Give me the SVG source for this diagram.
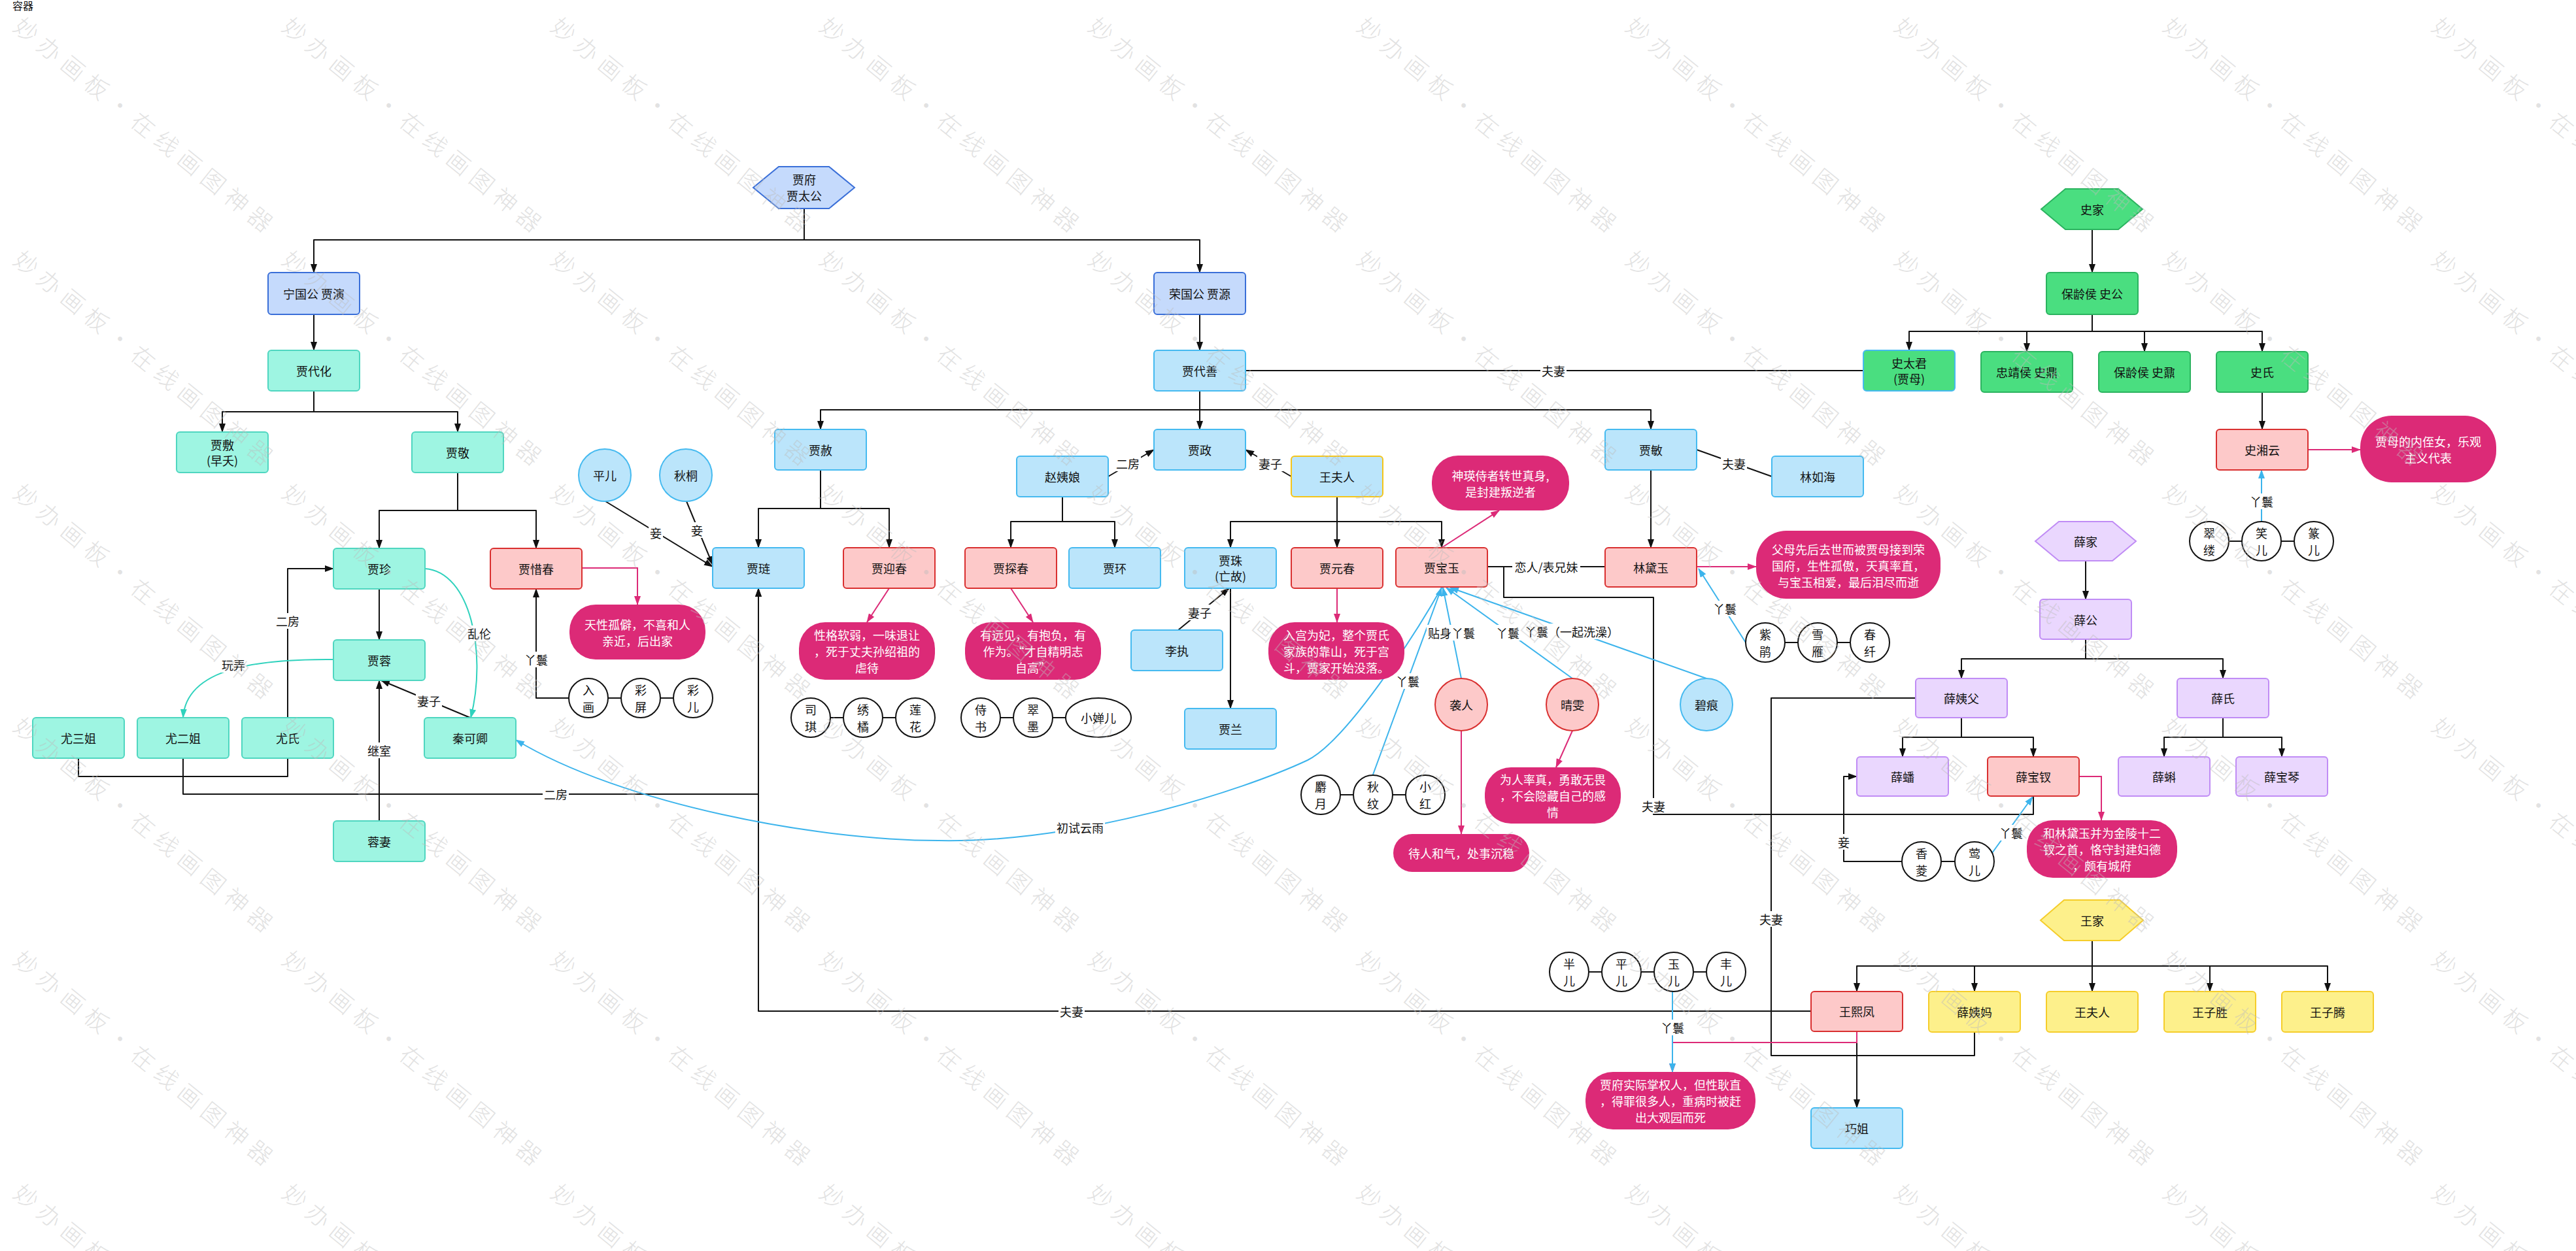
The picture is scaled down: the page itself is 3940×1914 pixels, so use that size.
<svg xmlns="http://www.w3.org/2000/svg" xmlns:xlink="http://www.w3.org/1999/xlink" width="3940" height="1914" viewBox="0 0 3940 1914">
<style>
.t{font-family:"Noto Sans CJK SC","Noto Sans",sans-serif;font-size:18px;fill:#111;text-anchor:middle;dominant-baseline:central}
.tw{fill:#fff}
.nb{fill:#c5dafc;stroke:#3a6fd8;stroke-width:2}
.nt{fill:#9ef5e2;stroke:#4fd6c0;stroke-width:2}
.ns{fill:#bbe5fb;stroke:#45baf0;stroke-width:2}
.nr{fill:#fdc9c9;stroke:#d93030;stroke-width:2}
.ng{fill:#4ade80;stroke:#2bb35f;stroke-width:2}
.np{fill:#ead7fe;stroke:#c08cf5;stroke-width:2}
.ny{fill:#fdf08b;stroke:#f5cd2a;stroke-width:2}
.note{fill:#dc2a77}
.maid{fill:#fff;stroke:#111;stroke-width:2}
.e{fill:none;stroke:#111;stroke-width:2;stroke-linejoin:round}
.eb{fill:none;stroke:#3cb4ec;stroke-width:2}
.ep{fill:none;stroke:#dc2a77;stroke-width:2}
.et{fill:none;stroke:#2fd2bd;stroke-width:2}
.lbg{fill:#fff}
.wm{font-family:"Noto Sans CJK SC",sans-serif;font-size:36px;font-weight:300;letter-spacing:10px;fill:#bdbdbd;fill-opacity:0.45}
</style>
<defs>
<marker id="ak" viewBox="0 0 14 10" refX="13" refY="5" markerWidth="14" markerHeight="10" markerUnits="userSpaceOnUse" orient="auto"><path d="M0,0 L14,5 L0,10 z" fill="#111"/></marker>
<marker id="ab" viewBox="0 0 14 10" refX="13" refY="5" markerWidth="14" markerHeight="10" markerUnits="userSpaceOnUse" orient="auto"><path d="M0,0 L14,5 L0,10 z" fill="#3cb4ec"/></marker>
<marker id="ap" viewBox="0 0 14 10" refX="13" refY="5" markerWidth="14" markerHeight="10" markerUnits="userSpaceOnUse" orient="auto"><path d="M0,0 L14,5 L0,10 z" fill="#dc2a77"/></marker>
<marker id="at" viewBox="0 0 14 10" refX="13" refY="5" markerWidth="14" markerHeight="10" markerUnits="userSpaceOnUse" orient="auto"><path d="M0,0 L14,5 L0,10 z" fill="#2fd2bd"/></marker>
<text id="wm" class="wm">妙办画板·在线画图神器</text>
</defs>
<rect width="3940" height="1914" fill="#fff"/>
<text x="19" y="8" class="t" style="font-size:16px;text-anchor:start">容器</text>

<g id="connectors">
<path class="e" marker-end="url(#ak)" d="M1230,319 V367 H480 V417"/>
<path class="e" marker-end="url(#ak)" d="M1230,367 H1835 V417"/>
<path class="e" marker-end="url(#ak)" d="M480,481 V536"/>
<path class="e" marker-end="url(#ak)" d="M480,598 V630 H340 V661"/>
<path class="e" marker-end="url(#ak)" d="M480,630 H700 V661"/>
<path class="e" marker-end="url(#ak)" d="M1835,481 V536"/>
<path class="e" marker-end="url(#ak)" d="M1835,598 V627 H1255 V657"/>
<path class="e" marker-end="url(#ak)" d="M1835,627 V657"/>
<path class="e" marker-end="url(#ak)" d="M1835,627 H2525 V657"/>
<path class="e" d="M1905,567 H2850"/>
<path class="e" marker-end="url(#ak)" d="M3200,351 V417"/>
<path class="e" marker-end="url(#ak)" d="M3200,481 V507 H2920 V536"/>
<path class="e" marker-end="url(#ak)" d="M3200,507 H3100 V538"/>
<path class="e" marker-end="url(#ak)" d="M3200,507 H3280 V538"/>
<path class="e" marker-end="url(#ak)" d="M3200,507 H3460 V538"/>
<path class="e" marker-end="url(#ak)" d="M3460,600 V657"/>
<path class="e" marker-end="url(#ak)" d="M700,723 V781 H580 V839"/>
<path class="e" marker-end="url(#ak)" d="M700,781 H820 V839"/>
<path class="e" marker-end="url(#ak)" d="M580,901 V979"/>
<path class="e" marker-end="url(#ak)" d="M1255,719 V778 H1160 V838"/>
<path class="e" marker-end="url(#ak)" d="M1255,778 H1360 V838"/>
<path class="e" marker-end="url(#ak)" d="M1625,760 V798 H1546 V838"/>
<path class="e" marker-end="url(#ak)" d="M1625,798 H1705 V838"/>
<path class="e" marker-end="url(#ak)" d="M2045,760 V798 H1882 V838"/>
<path class="e" marker-end="url(#ak)" d="M2045,798 V838"/>
<path class="e" marker-end="url(#ak)" d="M2045,798 H2205 V838"/>
<path class="e" marker-end="url(#ak)" d="M2525,719 V838"/>
<path class="e" marker-end="url(#ak)" d="M1695,729 L1765,688"/>
<path class="e" marker-end="url(#ak)" d="M1975,729 L1905,688"/>
<path class="e" d="M2595,688 L2710,729"/>
<path class="e" marker-end="url(#ak)" d="M926,767 L1090,867"/>
<path class="e" marker-end="url(#ak)" d="M1050,767 L1090,864"/>
<path class="e" marker-end="url(#ak)" d="M440,1098 V870 H510"/>
<path class="e" d="M120,1160 V1188 H440 V1160"/>
<path class="e" marker-end="url(#ak)" d="M280,1160 V1215 H1160 V900"/>
<path class="e" marker-end="url(#ak)" d="M2770,1547 H1160 V900"/>
<path class="e" marker-end="url(#ak)" d="M719,1098 L583,1041"/>
<path class="e" marker-end="url(#ak)" d="M580,1256 V1041"/>
<path class="e" marker-end="url(#ak)" d="M871,1068 H820 V901"/>
<path class="e" marker-end="url(#ak)" d="M1802,964 L1880,900"/>
<path class="e" marker-end="url(#ak)" d="M1882,900 V1084"/>
<path class="e" d="M2275,867 H2455"/>
<path class="e" d="M2275,867 H2300 V914 H2529 V1246 H3110 V1218"/>
<path class="e" marker-end="url(#ak)" d="M2909,1318 H2820 V1188 H2840"/>
<path class="e" marker-end="url(#ak)" d="M3190,858 V917"/>
<path class="e" marker-end="url(#ak)" d="M3190,978 V1008 H3000 V1038"/>
<path class="e" marker-end="url(#ak)" d="M3190,1008 H3400 V1038"/>
<path class="e" marker-end="url(#ak)" d="M3000,1098 V1128 H2910 V1158"/>
<path class="e" marker-end="url(#ak)" d="M3000,1128 H3110 V1158"/>
<path class="e" marker-end="url(#ak)" d="M3400,1098 V1128 H3310 V1158"/>
<path class="e" marker-end="url(#ak)" d="M3400,1128 H3490 V1158"/>
<path class="e" d="M2930,1068 H2709 V1615 H3020 V1579"/>
<path class="e" marker-end="url(#ak)" d="M3200,1439 V1478 H2840 V1517"/>
<path class="e" marker-end="url(#ak)" d="M3200,1478 H3020 V1517"/>
<path class="e" marker-end="url(#ak)" d="M3200,1478 V1517"/>
<path class="e" marker-end="url(#ak)" d="M3200,1478 H3380 V1517"/>
<path class="e" marker-end="url(#ak)" d="M3200,1478 H3560 V1517"/>
<path class="e" marker-end="url(#ak)" d="M2840,1578 V1695"/>
<path class="e" d="M930,1068 H950 M1010,1068 H1030 M1270,1098 H1290 M1350,1098 H1370 M1530,1098 H1550 M1610,1098 H1630 M2050,1216 H2070 M2130,1216 H2150 M2730,983 H2750 M2810,983 H2830 M3409,828 H3429 M3489,828 H3509 M2969,1318 H2990 M2430,1487 H2450 M2510,1487 H2530 M2590,1487 H2610"/>
<path class="ep" marker-end="url(#ap)" d="M890,869 H975 V925"/>
<path class="ep" marker-end="url(#ap)" d="M1360,900 L1326,952"/>
<path class="ep" marker-end="url(#ap)" d="M1546,900 L1580,952"/>
<path class="ep" marker-end="url(#ap)" d="M2045,900 V952"/>
<path class="ep" marker-end="url(#ap)" d="M2205,838 L2293,781"/>
<path class="ep" marker-end="url(#ap)" d="M2595,867 H2686"/>
<path class="ep" marker-end="url(#ap)" d="M2235,1118 V1276"/>
<path class="ep" marker-end="url(#ap)" d="M2405,1118 L2380,1174"/>
<path class="ep" marker-end="url(#ap)" d="M3530,688 H3610"/>
<path class="ep" marker-end="url(#ap)" d="M3180,1188 H3214 V1255"/>
<path class="ep" marker-end="url(#ap)" d="M2840,1578 V1595 H2558 V1640"/>
<path class="eb" marker-end="url(#ab)" d="M2670,983 L2598,870"/>
<path class="eb" marker-end="url(#ab)" d="M2235,1038 L2207,899"/>
<path class="eb" marker-end="url(#ab)" d="M2405,1038 L2212,899"/>
<path class="eb" marker-end="url(#ab)" d="M2610,1038 L2218,899"/>
<path class="eb" marker-end="url(#ab)" d="M2100,1185 L2205,899"/>
<path class="eb" marker-end="url(#ab)" d="M2205,899 C2165,970 2060,1133 2000,1163 C1900,1210 1650,1290 1435,1286 C1250,1286 950,1230 789,1132"/>
<path class="eb" marker-end="url(#ab)" d="M3459,798 V719"/>
<path class="eb" marker-end="url(#ab)" d="M3047,1305 L3109,1219"/>
<path class="eb" marker-end="url(#ab)" d="M2558,1517 V1640"/>
<path class="et" marker-end="url(#at)" d="M510,1009 C400,1008 285,1020 280,1098"/>
<path class="et" marker-end="url(#at)" d="M650,870 C720,875 745,1000 720,1098"/>
<g id="labels">
<rect class="lbg" x="420" y="938" width="40" height="24"/><text class="t" x="440" y="950">二房</text>
<rect class="lbg" x="337" y="1005" width="40" height="24"/><text class="t" x="357" y="1017">玩弄</text>
<rect class="lbg" x="713" y="957" width="40" height="24"/><text class="t" x="733" y="969">乱伦</text>
<rect class="lbg" x="636" y="1060" width="40" height="24"/><text class="t" x="656" y="1072">妻子</text>
<rect class="lbg" x="560" y="1136" width="40" height="24"/><text class="t" x="580" y="1148">继室</text>
<rect class="lbg" x="830" y="1203" width="40" height="24"/><text class="t" x="850" y="1215">二房</text>
<rect class="lbg" x="800" y="997" width="40" height="24"/><text class="t" x="820" y="1009">丫鬟</text>
<rect class="lbg" x="992" y="803" width="22" height="24"/><text class="t" x="1003" y="815">妾</text>
<rect class="lbg" x="1055" y="799" width="22" height="24"/><text class="t" x="1066" y="811">妾</text>
<rect class="lbg" x="1705" y="697" width="40" height="24"/><text class="t" x="1725" y="709">二房</text>
<rect class="lbg" x="1923" y="697" width="40" height="24"/><text class="t" x="1943" y="709">妻子</text>
<rect class="lbg" x="2356" y="555" width="40" height="24"/><text class="t" x="2376" y="567">夫妻</text>
<rect class="lbg" x="2632" y="697" width="40" height="24"/><text class="t" x="2652" y="709">夫妻</text>
<rect class="lbg" x="1815" y="925" width="40" height="24"/><text class="t" x="1835" y="937">妻子</text>
<rect class="lbg" x="1614" y="1254" width="76" height="24"/><text class="t" x="1652" y="1266">初试云雨</text>
<rect class="lbg" x="1619" y="1535" width="40" height="24"/><text class="t" x="1639" y="1547">夫妻</text>
<rect class="lbg" x="2313" y="855" width="104" height="24"/><text class="t" x="2365" y="867">恋人/表兄妹</text>
<rect class="lbg" x="2182" y="956" width="76" height="24"/><text class="t" x="2220" y="968">贴身丫鬟</text>
<rect class="lbg" x="2286" y="956" width="40" height="24"/><text class="t" x="2306" y="968">丫鬟</text>
<rect class="lbg" x="2329" y="954" width="150" height="24"/><text class="t" x="2404" y="966">丫鬟（一起洗澡）</text>
<rect class="lbg" x="2133" y="1030" width="40" height="24"/><text class="t" x="2153" y="1042">丫鬟</text>
<rect class="lbg" x="2618" y="919" width="40" height="24"/><text class="t" x="2638" y="931">丫鬟</text>
<rect class="lbg" x="2509" y="1221" width="40" height="24"/><text class="t" x="2529" y="1233">夫妻</text>
<rect class="lbg" x="2809" y="1276" width="22" height="24"/><text class="t" x="2820" y="1288">妾</text>
<rect class="lbg" x="3056" y="1262" width="40" height="24"/><text class="t" x="3076" y="1274">丫鬟</text>
<rect class="lbg" x="2689" y="1394" width="40" height="24"/><text class="t" x="2709" y="1406">夫妻</text>
<rect class="lbg" x="3439" y="755" width="40" height="24"/><text class="t" x="3459" y="767">丫鬟</text>
<rect class="lbg" x="2538" y="1560" width="40" height="24"/><text class="t" x="2558" y="1572">丫鬟</text>
</g>
</g>

<g id="jiafu"><polygon class="nb" points="1152,287 1191,255 1268,255 1307,287 1268,319 1191,319"/><text class="t" x="1230" y="274">贾府</text><text class="t" x="1230" y="299">贾太公</text></g>
<g id="shijia"><polygon class="ng" points="3122,320 3159,289 3240,289 3277,320 3240,351 3159,351"/><text class="t" x="3200" y="320">史家</text></g>
<g id="xuejia"><polygon class="np" points="3113,828 3149,798 3231,798 3267,828 3231,858 3149,858"/><text class="t" x="3190" y="828">薛家</text></g>
<g id="wangjia"><polygon class="ny" points="3121,1408 3157,1377 3242,1377 3278,1408 3242,1439 3157,1439"/><text class="t" x="3200" y="1408">王家</text></g>

<g id="ningguogong"><rect class="nb" x="410" y="417" width="140" height="64" rx="5"/><text class="t" x="480" y="449">宁国公 贾演</text></g>
<g id="rongguogong"><rect class="nb" x="1765" y="417" width="140" height="64" rx="5"/><text class="t" x="1835" y="449">荣国公 贾源</text></g>
<g id="jiadaihua"><rect class="nt" x="410" y="536" width="140" height="62" rx="5"/><text class="t" x="480" y="567">贾代化</text></g>
<g id="jiadaishan"><rect class="ns" x="1765" y="536" width="140" height="62" rx="5"/><text class="t" x="1835" y="567">贾代善</text></g>
<g id="jiafu2"><rect class="nt" x="270" y="661" width="140" height="62" rx="5"/><text class="t" x="340" y="680">贾敷</text><text class="t" x="340" y="704">(早夭)</text></g>
<g id="jiajing"><rect class="nt" x="630" y="661" width="140" height="62" rx="5"/><text class="t" x="700" y="692">贾敬</text></g>
<g id="jiazhen"><rect class="nt" x="510" y="839" width="140" height="62" rx="5"/><text class="t" x="580" y="870">贾珍</text></g>
<g id="jiaxichun"><rect class="nr" x="750" y="839" width="140" height="62" rx="5"/><text class="t" x="820" y="870">贾惜春</text></g>
<g id="jiarong"><rect class="nt" x="510" y="979" width="140" height="62" rx="5"/><text class="t" x="580" y="1010">贾蓉</text></g>
<g id="yousanjie"><rect class="nt" x="50" y="1098" width="140" height="62" rx="5"/><text class="t" x="120" y="1129">尤三姐</text></g>
<g id="youerjie"><rect class="nt" x="210" y="1098" width="140" height="62" rx="5"/><text class="t" x="280" y="1129">尤二姐</text></g>
<g id="youshi"><rect class="nt" x="370" y="1098" width="140" height="62" rx="5"/><text class="t" x="440" y="1129">尤氏</text></g>
<g id="qinkeqing"><rect class="nt" x="649" y="1098" width="140" height="62" rx="5"/><text class="t" x="719" y="1129">秦可卿</text></g>
<g id="rongqi"><rect class="nt" x="510" y="1256" width="140" height="62" rx="5"/><text class="t" x="580" y="1287">蓉妻</text></g>
<g id="jiashe"><rect class="ns" x="1185" y="657" width="140" height="62" rx="5"/><text class="t" x="1255" y="688">贾赦</text></g>
<g id="jiazheng"><rect class="ns" x="1765" y="657" width="140" height="62" rx="5"/><text class="t" x="1835" y="688">贾政</text></g>
<g id="jiamin"><rect class="ns" x="2455" y="657" width="140" height="62" rx="5"/><text class="t" x="2525" y="688">贾敏</text></g>
<g id="zhaoyiniang"><rect class="ns" x="1555" y="698" width="140" height="62" rx="5"/><text class="t" x="1625" y="729">赵姨娘</text></g>
<g id="wangfuren1"><rect class="ns" style="stroke:#f5c518" x="1975" y="698" width="140" height="62" rx="5"/><text class="t" x="2045" y="729">王夫人</text></g>
<g id="linruhai"><rect class="ns" x="2710" y="698" width="140" height="62" rx="5"/><text class="t" x="2780" y="729">林如海</text></g>
<g id="jialian"><rect class="ns" x="1090" y="838" width="140" height="62" rx="5"/><text class="t" x="1160" y="869">贾琏</text></g>
<g id="jiayingchun"><rect class="nr" x="1290" y="838" width="140" height="62" rx="5"/><text class="t" x="1360" y="869">贾迎春</text></g>
<g id="jiatanchun"><rect class="nr" x="1476" y="838" width="140" height="62" rx="5"/><text class="t" x="1546" y="869">贾探春</text></g>
<g id="jiahuan"><rect class="ns" x="1635" y="838" width="140" height="62" rx="5"/><text class="t" x="1705" y="869">贾环</text></g>
<g id="jiazhu"><rect class="ns" x="1812" y="838" width="140" height="62" rx="5"/><text class="t" x="1882" y="857">贾珠</text><text class="t" x="1882" y="881">(亡故)</text></g>
<g id="jiayuanchun"><rect class="nr" x="1975" y="838" width="140" height="62" rx="5"/><text class="t" x="2045" y="869">贾元春</text></g>
<g id="jiabaoyu"><rect class="nr" x="2135" y="838" width="140" height="60" rx="5"/><text class="t" x="2205" y="868">贾宝玉</text></g>
<g id="lindaiyu"><rect class="nr" x="2455" y="838" width="140" height="60" rx="5"/><text class="t" x="2525" y="868">林黛玉</text></g>
<g id="lizhi"><rect class="ns" x="1730" y="964" width="140" height="62" rx="5"/><text class="t" x="1800" y="995">李执</text></g>
<g id="jialan"><rect class="ns" x="1812" y="1084" width="140" height="62" rx="5"/><text class="t" x="1882" y="1115">贾兰</text></g>
<g id="shigong"><rect class="ng" x="3130" y="417" width="140" height="64" rx="5"/><text class="t" x="3200" y="449">保龄侯 史公</text></g>
<g id="shitaijun"><rect class="ng" style="stroke:#45baf0" x="2850" y="536" width="140" height="62" rx="5"/><text class="t" x="2920" y="555">史太君</text><text class="t" x="2920" y="579">(贾母)</text></g>
<g id="shiding"><rect class="ng" x="3030" y="538" width="140" height="62" rx="5"/><text class="t" x="3100" y="569">忠靖侯 史鼎</text></g>
<g id="shinai"><rect class="ng" x="3210" y="538" width="140" height="62" rx="5"/><text class="t" x="3280" y="569">保龄侯 史鼐</text></g>
<g id="shishi"><rect class="ng" x="3390" y="538" width="140" height="62" rx="5"/><text class="t" x="3460" y="569">史氏</text></g>
<g id="shixiangyun"><rect class="nr" x="3390" y="657" width="140" height="62" rx="5"/><text class="t" x="3460" y="688">史湘云</text></g>
<g id="xuegong"><rect class="np" x="3120" y="917" width="140" height="61" rx="5"/><text class="t" x="3190" y="948">薛公</text></g>
<g id="xueyifu"><rect class="np" x="2930" y="1038" width="140" height="60" rx="5"/><text class="t" x="3000" y="1068">薛姨父</text></g>
<g id="xueshi"><rect class="np" x="3330" y="1038" width="140" height="60" rx="5"/><text class="t" x="3400" y="1068">薛氏</text></g>
<g id="xuepan"><rect class="np" x="2840" y="1158" width="140" height="60" rx="5"/><text class="t" x="2910" y="1188">薛蟠</text></g>
<g id="xuebaochai"><rect class="nr" x="3040" y="1158" width="140" height="60" rx="5"/><text class="t" x="3110" y="1188">薛宝钗</text></g>
<g id="xueke"><rect class="np" x="3240" y="1158" width="140" height="60" rx="5"/><text class="t" x="3310" y="1188">薛蝌</text></g>
<g id="xuebaoqin"><rect class="np" x="3420" y="1158" width="140" height="60" rx="5"/><text class="t" x="3490" y="1188">薛宝琴</text></g>
<g id="wangxifeng"><rect class="nr" x="2770" y="1517" width="140" height="61" rx="5"/><text class="t" x="2840" y="1547">王熙凤</text></g>
<g id="xueyima"><rect class="ny" x="2950" y="1517" width="140" height="62" rx="5"/><text class="t" x="3020" y="1548">薛姨妈</text></g>
<g id="wangfuren2"><rect class="ny" x="3130" y="1517" width="140" height="62" rx="5"/><text class="t" x="3200" y="1548">王夫人</text></g>
<g id="wangzisheng"><rect class="ny" x="3310" y="1517" width="140" height="62" rx="5"/><text class="t" x="3380" y="1548">王子胜</text></g>
<g id="wangziteng"><rect class="ny" x="3490" y="1517" width="140" height="62" rx="5"/><text class="t" x="3560" y="1548">王子腾</text></g>
<g id="qiaojie"><rect class="ns" x="2770" y="1695" width="140" height="62" rx="5"/><text class="t" x="2840" y="1726">巧姐</text></g>

<g id="note-xichun"><rect class="note" x="871" y="925" width="208" height="84" rx="40"/><text class="t tw" x="975" y="955">天性孤僻，不喜和人</text><text class="t tw" x="975" y="980">亲近，后出家</text></g>
<g id="note-yingchun"><rect class="note" x="1222" y="952" width="208" height="88" rx="40"/><text class="t tw" x="1326" y="971">性格软弱，一味退让</text><text class="t tw" x="1326" y="996">，死于丈夫孙绍祖的</text><text class="t tw" x="1326" y="1021">虐待</text></g>
<g id="note-tanchun"><rect class="note" x="1476" y="952" width="208" height="88" rx="40"/><text class="t tw" x="1580" y="971">有远见，有抱负，有</text><text class="t tw" x="1580" y="996">作为。“才自精明志</text><text class="t tw" x="1580" y="1021">自高”</text></g>
<g id="note-yuanchun"><rect class="note" x="1940" y="952" width="208" height="88" rx="40"/><text class="t tw" x="2044" y="971">入宫为妃，整个贾氏</text><text class="t tw" x="2044" y="996">家族的靠山，死于宫</text><text class="t tw" x="2044" y="1021">斗，贾家开始没落。</text></g>
<g id="note-baoyu"><rect class="note" x="2190" y="697" width="210" height="84" rx="40"/><text class="t tw" x="2295" y="727">神瑛侍者转世真身,</text><text class="t tw" x="2295" y="752">是封建叛逆者</text></g>
<g id="note-daiyu"><rect class="note" x="2686" y="812" width="282" height="104" rx="46"/><text class="t tw" x="2827" y="840">父母先后去世而被贾母接到荣</text><text class="t tw" x="2827" y="865">国府，生性孤傲，天真率直，</text><text class="t tw" x="2827" y="890">与宝玉相爱，最后泪尽而逝</text></g>
<g id="note-xiangyun"><rect class="note" x="3610" y="636" width="208" height="102" rx="48"/><text class="t tw" x="3714" y="675">贾母的内侄女，乐观</text><text class="t tw" x="3714" y="700">主义代表</text></g>
<g id="note-qingwen"><rect class="note" x="2271" y="1174" width="208" height="86" rx="40"/><text class="t tw" x="2375" y="1192">为人率真，勇敢无畏</text><text class="t tw" x="2375" y="1217">，不会隐藏自己的感</text><text class="t tw" x="2375" y="1242">情</text></g>
<g id="note-xiren"><rect class="note" x="2131" y="1276" width="208" height="58" rx="29"/><text class="t tw" x="2235" y="1305">待人和气，处事沉稳</text></g>
<g id="note-baochai"><rect class="note" x="3100" y="1255" width="230" height="88" rx="40"/><text class="t tw" x="3215" y="1274">和林黛玉并为金陵十二</text><text class="t tw" x="3215" y="1299">钗之首，恪守封建妇德</text><text class="t tw" x="3215" y="1324">，颇有城府</text></g>
<g id="note-xifeng"><rect class="note" x="2425" y="1640" width="260" height="88" rx="42"/><text class="t tw" x="2555" y="1659">贾府实际掌权人，但性耿直</text><text class="t tw" x="2555" y="1684">，得罪很多人，重病时被赶</text><text class="t tw" x="2555" y="1709">出大观园而死</text></g>

<g id="pinger1"><ellipse class="ns" cx="925" cy="727" rx="40" ry="40"/><text class="t" x="925" y="727">平儿</text></g>
<g id="qiutong"><ellipse class="ns" cx="1049" cy="727" rx="40" ry="40"/><text class="t" x="1049" y="727">秋桐</text></g>
<g id="xiren"><ellipse class="nr" cx="2235" cy="1078" rx="40" ry="40"/><text class="t" x="2235" y="1078">袭人</text></g>
<g id="qingwen"><ellipse class="nr" cx="2405" cy="1078" rx="40" ry="40"/><text class="t" x="2405" y="1078">晴雯</text></g>
<g id="bihen"><ellipse class="ns" cx="2610" cy="1078" rx="40" ry="40"/><text class="t" x="2610" y="1078">碧痕</text></g>

<g id="ruhua"><circle class="maid" cx="900" cy="1068" r="30"/><text class="t" x="900" y="1055">入</text><text class="t" x="900" y="1081">画</text></g>
<g id="caiping"><circle class="maid" cx="980" cy="1068" r="30"/><text class="t" x="980" y="1055">彩</text><text class="t" x="980" y="1081">屏</text></g>
<g id="caier"><circle class="maid" cx="1060" cy="1068" r="30"/><text class="t" x="1060" y="1055">彩</text><text class="t" x="1060" y="1081">儿</text></g>
<g id="siqi"><circle class="maid" cx="1240" cy="1098" r="30"/><text class="t" x="1240" y="1085">司</text><text class="t" x="1240" y="1111">琪</text></g>
<g id="xiuju"><circle class="maid" cx="1320" cy="1098" r="30"/><text class="t" x="1320" y="1085">绣</text><text class="t" x="1320" y="1111">橘</text></g>
<g id="lianhua"><circle class="maid" cx="1400" cy="1098" r="30"/><text class="t" x="1400" y="1085">莲</text><text class="t" x="1400" y="1111">花</text></g>
<g id="shishu"><circle class="maid" cx="1500" cy="1098" r="30"/><text class="t" x="1500" y="1085">侍</text><text class="t" x="1500" y="1111">书</text></g>
<g id="cuimo"><circle class="maid" cx="1580" cy="1098" r="30"/><text class="t" x="1580" y="1085">翠</text><text class="t" x="1580" y="1111">墨</text></g>
<g id="xiaochaner"><ellipse class="maid" cx="1680" cy="1098" rx="50" ry="30"/><text class="t" x="1680" y="1098">小婵儿</text></g>
<g id="sheyue"><circle class="maid" cx="2020" cy="1216" r="30"/><text class="t" x="2020" y="1203">麝</text><text class="t" x="2020" y="1229">月</text></g>
<g id="qiuwen"><circle class="maid" cx="2100" cy="1216" r="30"/><text class="t" x="2100" y="1203">秋</text><text class="t" x="2100" y="1229">纹</text></g>
<g id="xiaohong"><circle class="maid" cx="2180" cy="1216" r="30"/><text class="t" x="2180" y="1203">小</text><text class="t" x="2180" y="1229">红</text></g>
<g id="zijuan"><circle class="maid" cx="2700" cy="983" r="30"/><text class="t" x="2700" y="970">紫</text><text class="t" x="2700" y="996">鹃</text></g>
<g id="xueyan"><circle class="maid" cx="2780" cy="983" r="30"/><text class="t" x="2780" y="970">雪</text><text class="t" x="2780" y="996">雁</text></g>
<g id="chunxian"><circle class="maid" cx="2860" cy="983" r="30"/><text class="t" x="2860" y="970">春</text><text class="t" x="2860" y="996">纤</text></g>
<g id="cuilv"><circle class="maid" cx="3379" cy="828" r="30"/><text class="t" x="3379" y="815">翠</text><text class="t" x="3379" y="841">缕</text></g>
<g id="xiaoer"><circle class="maid" cx="3459" cy="828" r="30"/><text class="t" x="3459" y="815">笑</text><text class="t" x="3459" y="841">儿</text></g>
<g id="zhuaner"><circle class="maid" cx="3539" cy="828" r="30"/><text class="t" x="3539" y="815">篆</text><text class="t" x="3539" y="841">儿</text></g>
<g id="xiangling"><circle class="maid" cx="2939" cy="1318" r="30"/><text class="t" x="2939" y="1305">香</text><text class="t" x="2939" y="1331">菱</text></g>
<g id="yinger"><circle class="maid" cx="3020" cy="1318" r="30"/><text class="t" x="3020" y="1305">莺</text><text class="t" x="3020" y="1331">儿</text></g>
<g id="baner"><circle class="maid" cx="2400" cy="1487" r="30"/><text class="t" x="2400" y="1474">半</text><text class="t" x="2400" y="1500">儿</text></g>
<g id="pinger2"><circle class="maid" cx="2480" cy="1487" r="30"/><text class="t" x="2480" y="1474">平</text><text class="t" x="2480" y="1500">儿</text></g>
<g id="yuer"><circle class="maid" cx="2560" cy="1487" r="30"/><text class="t" x="2560" y="1474">玉</text><text class="t" x="2560" y="1500">儿</text></g>
<g id="fenger"><circle class="maid" cx="2640" cy="1487" r="30"/><text class="t" x="2640" y="1474">丰</text><text class="t" x="2640" y="1500">儿</text></g>

<g id="watermark">
<use href="#wm" transform="translate(18,45) rotate(39)"/><use href="#wm" transform="translate(429,45) rotate(39)"/><use href="#wm" transform="translate(840,45) rotate(39)"/><use href="#wm" transform="translate(1251,45) rotate(39)"/><use href="#wm" transform="translate(1662,45) rotate(39)"/><use href="#wm" transform="translate(2073,45) rotate(39)"/><use href="#wm" transform="translate(2484,45) rotate(39)"/><use href="#wm" transform="translate(2895,45) rotate(39)"/><use href="#wm" transform="translate(3306,45) rotate(39)"/><use href="#wm" transform="translate(3717,45) rotate(39)"/>
<use href="#wm" transform="translate(18,402) rotate(39)"/><use href="#wm" transform="translate(429,402) rotate(39)"/><use href="#wm" transform="translate(840,402) rotate(39)"/><use href="#wm" transform="translate(1251,402) rotate(39)"/><use href="#wm" transform="translate(1662,402) rotate(39)"/><use href="#wm" transform="translate(2073,402) rotate(39)"/><use href="#wm" transform="translate(2484,402) rotate(39)"/><use href="#wm" transform="translate(2895,402) rotate(39)"/><use href="#wm" transform="translate(3306,402) rotate(39)"/><use href="#wm" transform="translate(3717,402) rotate(39)"/>
<use href="#wm" transform="translate(18,759) rotate(39)"/><use href="#wm" transform="translate(429,759) rotate(39)"/><use href="#wm" transform="translate(840,759) rotate(39)"/><use href="#wm" transform="translate(1251,759) rotate(39)"/><use href="#wm" transform="translate(1662,759) rotate(39)"/><use href="#wm" transform="translate(2073,759) rotate(39)"/><use href="#wm" transform="translate(2484,759) rotate(39)"/><use href="#wm" transform="translate(2895,759) rotate(39)"/><use href="#wm" transform="translate(3306,759) rotate(39)"/><use href="#wm" transform="translate(3717,759) rotate(39)"/>
<use href="#wm" transform="translate(18,1116) rotate(39)"/><use href="#wm" transform="translate(429,1116) rotate(39)"/><use href="#wm" transform="translate(840,1116) rotate(39)"/><use href="#wm" transform="translate(1251,1116) rotate(39)"/><use href="#wm" transform="translate(1662,1116) rotate(39)"/><use href="#wm" transform="translate(2073,1116) rotate(39)"/><use href="#wm" transform="translate(2484,1116) rotate(39)"/><use href="#wm" transform="translate(2895,1116) rotate(39)"/><use href="#wm" transform="translate(3306,1116) rotate(39)"/><use href="#wm" transform="translate(3717,1116) rotate(39)"/>
<use href="#wm" transform="translate(18,1473) rotate(39)"/><use href="#wm" transform="translate(429,1473) rotate(39)"/><use href="#wm" transform="translate(840,1473) rotate(39)"/><use href="#wm" transform="translate(1251,1473) rotate(39)"/><use href="#wm" transform="translate(1662,1473) rotate(39)"/><use href="#wm" transform="translate(2073,1473) rotate(39)"/><use href="#wm" transform="translate(2484,1473) rotate(39)"/><use href="#wm" transform="translate(2895,1473) rotate(39)"/><use href="#wm" transform="translate(3306,1473) rotate(39)"/><use href="#wm" transform="translate(3717,1473) rotate(39)"/>
<use href="#wm" transform="translate(18,1830) rotate(39)"/><use href="#wm" transform="translate(429,1830) rotate(39)"/><use href="#wm" transform="translate(840,1830) rotate(39)"/><use href="#wm" transform="translate(1251,1830) rotate(39)"/><use href="#wm" transform="translate(1662,1830) rotate(39)"/><use href="#wm" transform="translate(2073,1830) rotate(39)"/><use href="#wm" transform="translate(2484,1830) rotate(39)"/><use href="#wm" transform="translate(2895,1830) rotate(39)"/><use href="#wm" transform="translate(3306,1830) rotate(39)"/><use href="#wm" transform="translate(3717,1830) rotate(39)"/>
</g>
</svg>
